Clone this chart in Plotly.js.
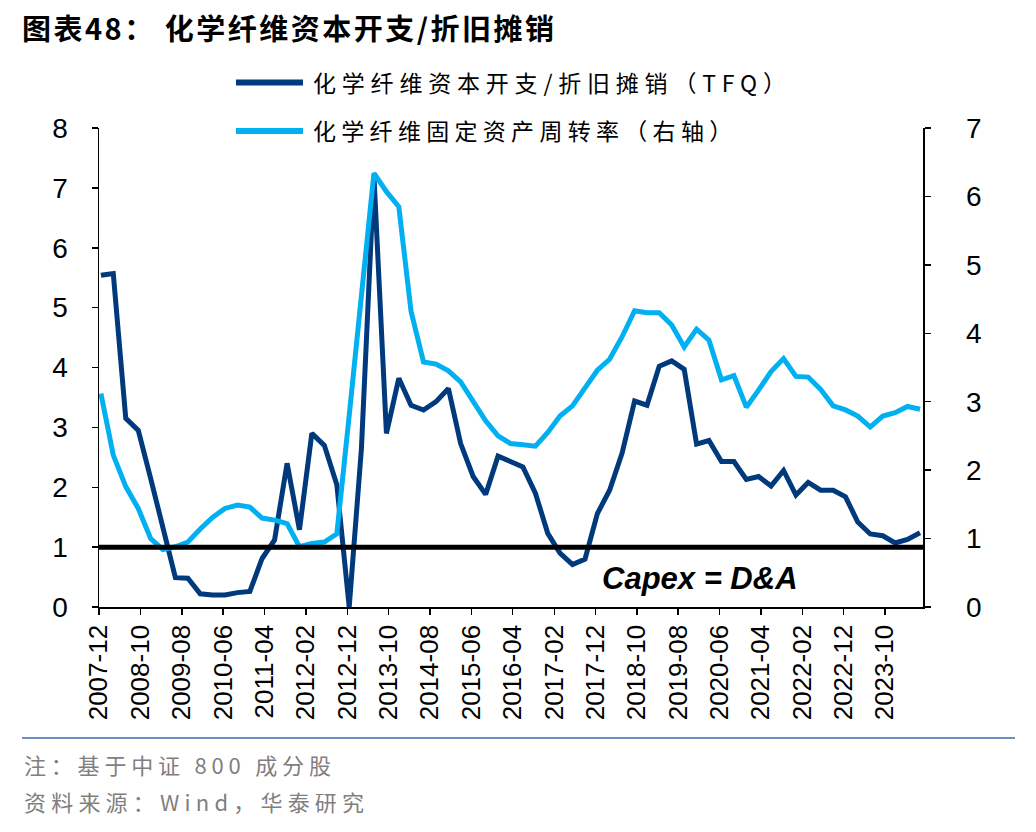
<!DOCTYPE html>
<html>
<head>
<meta charset="utf-8">
<script src="https://cdn.plot.ly/plotly-3.0.1.min.js"></script>
<style>
html,body{margin:0;padding:0;background:#fff;}
#chart{width:1036px;height:832px;}
</style>
</head>
<body>
<div id="chart"></div>
<script>
// Quarter-end periods
const quarters = [
 '2007-12',
 '2008-03','2008-06','2008-09','2008-12',
 '2009-03','2009-06','2009-09','2009-12',
 '2010-03','2010-06','2010-09','2010-12',
 '2011-03','2011-06','2011-09','2011-12',
 '2012-03','2012-06','2012-09','2012-12',
 '2013-03','2013-06','2013-09','2013-12',
 '2014-03','2014-06','2014-09','2014-12',
 '2015-03','2015-06','2015-09','2015-12',
 '2016-03','2016-06','2016-09','2016-12',
 '2017-03','2017-06','2017-09','2017-12',
 '2018-03','2018-06','2018-09','2018-12',
 '2019-03','2019-06','2019-09','2019-12',
 '2020-03','2020-06','2020-09','2020-12',
 '2021-03','2021-06','2021-09','2021-12',
 '2022-03','2022-06','2022-09','2022-12',
 '2023-03','2023-06','2023-09','2023-12',
 '2024-03','2024-06'
];

// 化学纤维资本开支/折旧摊销（TFQ） - left axis
const capexRatio = [
 5.54,
 5.57,3.15,2.95,2.15,
 1.35,0.49,0.48,0.22,
 0.20,0.20,0.24,0.26,
 0.81,1.12,2.40,1.29,
 2.90,2.70,2.04,0.00,
 2.65,7.20,2.90,3.82,
 3.37,3.29,3.43,3.65,
 2.73,2.18,1.88,2.52,
 2.43,2.34,1.90,1.23,
 0.90,0.71,0.80,1.56,
 1.95,2.57,3.44,3.37,
 4.02,4.11,3.97,2.72,
 2.78,2.43,2.43,2.13,
 2.18,2.02,2.28,1.87,
 2.08,1.95,1.95,1.84,
 1.42,1.22,1.19,1.07,
 1.13,1.24
];

// 化学纤维固定资产周转率（右轴）
const assetTurnover = [
 3.12,
 2.22,1.76,1.44,1.00,
 0.84,0.88,0.95,1.14,
 1.31,1.44,1.49,1.46,
 1.30,1.27,1.22,0.88,
 0.93,0.95,1.07,2.80,
 4.60,6.34,6.07,5.85,
 4.32,3.58,3.55,3.45,
 3.29,3.02,2.72,2.50,
 2.39,2.37,2.35,2.55,
 2.79,2.94,3.20,3.46,
 3.62,3.95,4.33,4.30,
 4.30,4.12,3.80,4.06,
 3.90,3.32,3.38,2.92,
 3.17,3.44,3.63,3.37,
 3.36,3.18,2.94,2.88,
 2.79,2.63,2.79,2.84,
 2.93,2.89
];

const seriesNames = ['化学纤维资本开支/折旧摊销（TFQ）', '化学纤维固定资产周转率（右轴）'];
const refLevel = 1;
const refLabel = 'Capex = D&A';
const titleText = '图表48： 化学纤维资本开支/折旧摊销';
const noteText = '注：基于中证 800 成分股';
const sourceText = '资料来源：Wind，华泰研究';

const DARK = '#003A7D';
const LIGHT = '#00B0F0';

// plot-area geometry (pixels)
const L = 99, R = 923, T = 128, B = 607;
const px = x => (x - L) / (R - L);
const py = y => (B - y) / (B - T);

const xDates = quarters.map(q => q + '-15');

const traces = [
  {x: xDates, y: capexRatio, name: seriesNames[0], type: 'scatter', mode: 'lines',
   line: {color: DARK, width: 5}, yaxis: 'y', showlegend: false, hoverinfo: 'skip'},
  {x: xDates, y: assetTurnover, name: seriesNames[1], type: 'scatter', mode: 'lines',
   line: {color: LIGHT, width: 5}, yaxis: 'y2', showlegend: false, hoverinfo: 'skip'}
];

const arial = 'Liberation Sans, Arial, sans-serif';
const xTickFont = {family: arial, size: 26, color: '#000'};
const yTickFont = {family: arial, size: 28, color: '#000'};
const cjk = 'Noto Sans CJK SC, sans-serif';

const layout = {
  width: 1036, height: 832,
  paper_bgcolor: '#fff', plot_bgcolor: '#fff',
  margin: {l: L, r: 1036 - R, t: T, b: 832 - B, pad: 0},
  showlegend: false,
  title: {text: titleText, xref: 'container', yref: 'container', x: 22/1036, xanchor: 'left',
          y: 1 - 30/832, yanchor: 'middle',
          font: {family: cjk, size: 29, color: '#000', weight: 'bold'}},
  xaxis: {type: 'date', range: ['2007-12-01', '2024-07-07'], tick0: '2007-12-01', dtick: 'M10',
          tickformat: '%Y-%m', tickangle: -90, ticks: 'outside', ticklen: 6, tickwidth: 1.5, tickcolor: '#000',
          showline: true, linecolor: '#000', linewidth: 1.5, showgrid: false, zeroline: false,
          tickfont: xTickFont, fixedrange: true},
  yaxis: {range: [0, 8], dtick: 1, ticks: 'outside', ticklen: 6, tickwidth: 1.5, tickcolor: '#000',
          showline: true, linecolor: '#000', linewidth: 1.5, showgrid: false, zeroline: false,
          tickfont: yTickFont, ticklabelstandoff: 18, fixedrange: true},
  yaxis2: {range: [0, 7], dtick: 1, overlaying: 'y', side: 'right', ticks: 'outside', ticklen: 6,
           tickwidth: 1.5, tickcolor: '#000', showline: true, linecolor: '#000', linewidth: 1.5,
           showgrid: false, zeroline: false, tickfont: yTickFont, ticklabelstandoff: 30, fixedrange: true},
  shapes: [
    {type: 'line', xref: 'paper', yref: 'y', x0: 0, x1: 1, y0: refLevel, y1: refLevel,
     line: {color: '#000', width: 5}, layer: 'above'},
    {type: 'line', xref: 'paper', yref: 'paper', x0: px(236), x1: px(303), y0: py(82.5), y1: py(82.5),
     line: {color: DARK, width: 6}},
    {type: 'line', xref: 'paper', yref: 'paper', x0: px(236), x1: px(303), y0: py(131), y1: py(131),
     line: {color: LIGHT, width: 6}},
    {type: 'line', xref: 'paper', yref: 'paper', x0: px(22), x1: px(1015), y0: py(738), y1: py(738),
     line: {color: '#6F8FBF', width: 2}}
  ],
  annotations: [
    {xref: 'paper', yref: 'paper', x: px(311), y: py(81.5), xanchor: 'left', yanchor: 'middle', align: 'left',
     text: seriesNames[0], showarrow: false, font: {family: cjk, size: 23, color: '#000'}},
    {xref: 'paper', yref: 'paper', x: px(311), y: py(130), xanchor: 'left', yanchor: 'middle', align: 'left',
     text: seriesNames[1], showarrow: false, font: {family: cjk, size: 23, color: '#000'}},
    {xref: 'paper', yref: 'paper', x: px(700), y: py(578), xanchor: 'center', yanchor: 'middle',
     text: '<b><i>' + refLabel.replace('&', '&amp;') + '</i></b>', showarrow: false,
     font: {family: arial, size: 31, color: '#000'}},
    {xref: 'paper', yref: 'paper', x: px(22), y: py(764), xanchor: 'left', yanchor: 'middle', align: 'left',
     text: noteText, showarrow: false, font: {family: cjk, size: 22, color: '#7F7F7F'}},
    {xref: 'paper', yref: 'paper', x: px(22), y: py(801), xanchor: 'left', yanchor: 'middle', align: 'left',
     text: sourceText, showarrow: false, font: {family: cjk, size: 22, color: '#7F7F7F'}}
  ]
};

// extra character spacing to match the original typesetting
const spacing = [
  [seriesNames[0], '5.8px'], [seriesNames[1], '5.3px'],
  [noteText, '4.8px'], [sourceText, '5.2px'], [titleText, '2.5px']
];

Plotly.newPlot('chart', traces, layout, {displayModeBar: false, staticPlot: true}).then(gd => {
  gd.querySelectorAll('text').forEach(t => {
    const s = t.textContent.replace(/\u00a0/g, ' ');
    spacing.forEach(([txt, ls]) => {
      if (s === txt) t.style.letterSpacing = ls;
    });
  });
});
</script>
</body>
</html>
